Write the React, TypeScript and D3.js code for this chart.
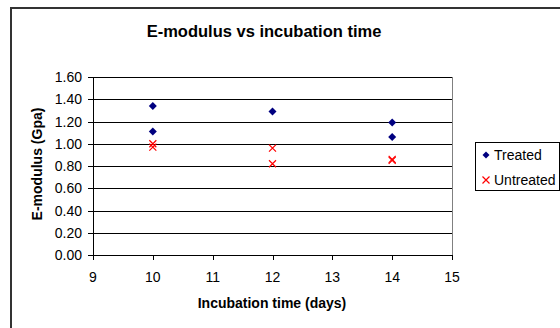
import React from "react";
import * as d3 from "d3";

// Incubation days and measured E-modulus values (GPa)
const treatedDays = [10, 10, 12, 14, 14];
const treatedValues = [1.34, 1.11, 1.29, 1.19, 1.06];
const untreatedDays = [10, 10, 12, 12, 14, 14];
const untreatedValues = [1.0, 0.97, 0.96, 0.82, 0.86, 0.85];
const xTicks = [9, 10, 11, 12, 13, 14, 15];
const yTicks = [0, 0.2, 0.4, 0.6, 0.8, 1.0, 1.2, 1.4, 1.6];
const seriesNames = ["Treated", "Untreated"];

const W = 560;
const H = 328;
const plot = { left: 93, right: 452, top: 77, bottom: 255 };
const FONT = "'Liberation Sans', Arial, sans-serif";
const NAVY = "#000080";
const RED = "#ff0000";

function Diamond({ x, y, r = 4 }: { x: number; y: number; r?: number }) {
  return (
    <path
      d={`M${x},${y - r}L${x + r},${y}L${x},${y + r}L${x - r},${y}Z`}
      fill={NAVY}
    />
  );
}

function Cross({ x, y, r = 3.5 }: { x: number; y: number; r?: number }) {
  return (
    <path
      d={`M${x - r},${y - r}L${x + r},${y + r}M${x - r},${y + r}L${x + r},${y - r}`}
      stroke={RED}
      strokeWidth={1.2}
      fill="none"
    />
  );
}

export default function App() {
  const x = d3.scaleLinear().domain([9, 15]).range([plot.left, plot.right]);
  const y = d3.scaleLinear().domain([0, 1.6]).range([plot.bottom, plot.top]);
  const fmt = d3.format(".2f");

  return (
    <svg
      width={W}
      height={H}
      style={{ position: "absolute", left: 0, top: 0, background: "#fff" }}
      fontFamily={FONT}
    >
      {/* outer chart frame */}
      <rect x={11} y={8} width={600} height={400} fill="none" stroke="#333" strokeWidth={2} />

      <text x={264} y={37} textAnchor="middle" fontSize={16.5} fontWeight="bold" fill="#000">
        E-modulus vs incubation time
      </text>

      {/* horizontal gridlines */}
      {yTicks.map((t) => (
        <line
          key={"g" + t}
          x1={plot.left}
          x2={plot.right}
          y1={Math.round(y(t)) + 0.5}
          y2={Math.round(y(t)) + 0.5}
          stroke="#000"
          strokeWidth={1}
        />
      ))}
      {/* plot area right edge */}
      <line
        x1={plot.right + 0.5}
        x2={plot.right + 0.5}
        y1={y(1.6)}
        y2={y(0)}
        stroke="#808080"
        strokeWidth={1}
      />

      {/* y axis */}
      <line x1={plot.left + 0.5} x2={plot.left + 0.5} y1={y(1.6)} y2={y(0) + 5} stroke="#000" />
      {yTicks.map((t) => (
        <g key={"y" + t}>
          <line
            x1={plot.left - 5}
            x2={plot.left}
            y1={Math.round(y(t)) + 0.5}
            y2={Math.round(y(t)) + 0.5}
            stroke="#000"
          />
          <text x={82} y={y(t) + 5} textAnchor="end" fontSize={14} fill="#000">
            {fmt(t)}
          </text>
        </g>
      ))}

      {/* x axis */}
      {xTicks.map((t) => (
        <g key={"x" + t}>
          <line
            x1={Math.round(x(t)) + 0.5}
            x2={Math.round(x(t)) + 0.5}
            y1={plot.bottom}
            y2={plot.bottom + 5}
            stroke="#000"
          />
          <text x={x(t)} y={282} textAnchor="middle" fontSize={14} fill="#000">
            {t}
          </text>
        </g>
      ))}

      <text x={272} y={308} textAnchor="middle" fontSize={14} fontWeight="bold" fill="#000">
        Incubation time (days)
      </text>
      <text
        transform={`translate(42,${(plot.top + plot.bottom) / 2 - 2}) rotate(-90)`}
        textAnchor="middle"
        fontSize={14}
        fontWeight="bold"
        fill="#000"
      >
        E-modulus (Gpa)
      </text>

      {/* data points */}
      {treatedValues.map((v, i) => (
        <Diamond key={"t" + i} x={x(treatedDays[i])} y={y(v)} />
      ))}
      {untreatedValues.map((v, i) => (
        <Cross key={"u" + i} x={x(untreatedDays[i])} y={y(v)} />
      ))}

      {/* legend */}
      <rect x={475.5} y={142.5} width={84} height={48} fill="#fff" stroke="#000" />
      <Diamond x={486} y={155} r={3.5} />
      <text x={494} y={160} fontSize={14} fill="#000">
        {seriesNames[0]}
      </text>
      <Cross x={486} y={180} r={3.5} />
      <text x={494} y={185} fontSize={14} fill="#000">
        {seriesNames[1]}
      </text>
    </svg>
  );
}
